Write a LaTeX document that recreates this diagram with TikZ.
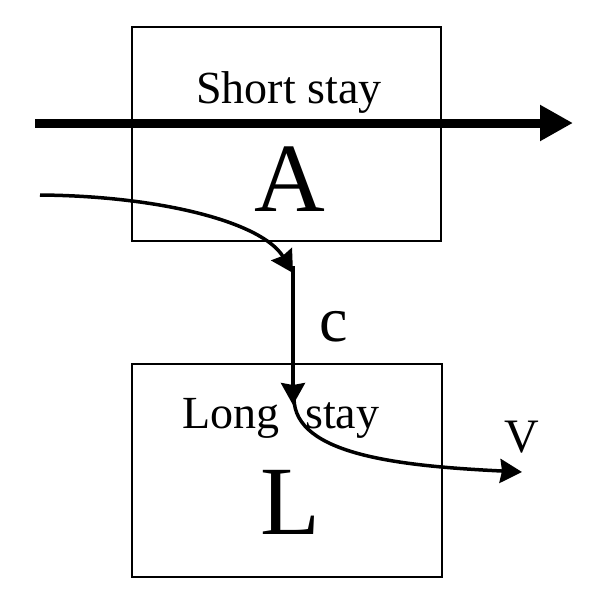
\documentclass[tikz,border=0pt]{standalone}
\usepackage{fontspec}
\setmainfont{Liberation Serif}
\usetikzlibrary{arrows.meta}
\tikzset{
  box/.style={draw, line width=1.5pt, inner sep=0pt, outer sep=0pt},
  lbl/.style={inner sep=0pt, anchor=base},
  flow/.style={line width=3.5pt, -{Stealth[length=22pt,width=24pt,inset=2pt]}},
  bigflow/.style={line width=9pt, -{Triangle[length=33pt,width=34pt]}}
}
\begin{document}
\begin{tikzpicture}[x=1pt,y=-1pt]
\useasboundingbox (0,0) rectangle (600,611);
\fill[white] (0,0) rectangle (600,611);
\node[box, minimum width=309pt, minimum height=214pt] (boxA) at (286.5,134) {};
\node[box, minimum width=310pt, minimum height=213pt] (boxL) at (287,470.5) {};
\node[lbl, font=\fontsize{46}{50}\selectfont] (short) at (289,103) {Short stay};
\node[lbl, font=\fontsize{98}{100}\selectfont] (a) at (290,211) {A};
\node[lbl, font=\fontsize{46}{50}\selectfont] (long) at (281,428) {Long\hspace{0.55em}stay};
\node[lbl, font=\fontsize{98}{100}\selectfont] (l) at (290,534) {L};
\node[lbl, font=\fontsize{64}{66}\selectfont] (c) at (334,341) {c};
\node[lbl, font=\fontsize{48}{50}\selectfont] (v) at (522,452) {V};
\coordinate (t0) at (35,123);
\coordinate (t1) at (573,123);
\coordinate (s0) at (40,195);
\coordinate (s1) at (293,273);
\coordinate (s2) at (293,266);
\coordinate (s3) at (293,405);
\coordinate (s4) at (294,398);
\coordinate (s5) at (522,472);
\draw[bigflow] (t0) -- (t1);
\draw[flow] (s0) .. controls (160,196) and (262,222) .. (s1);
\draw[flow] (s2) -- (s3);
\draw[flow] (s4) .. controls (294,455) and (400,466) .. (s5);
\end{tikzpicture}
\end{document}
